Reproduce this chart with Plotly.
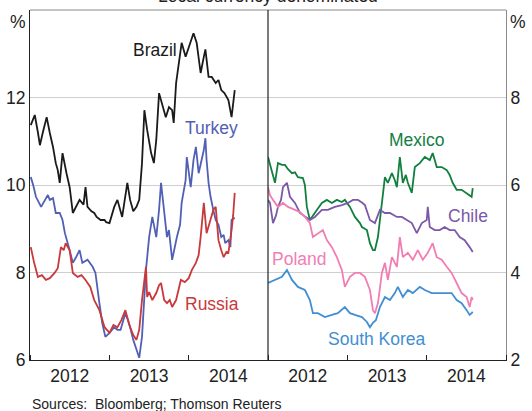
import pandas as pd
import plotly.graph_objects as go

# ---------------- data (decimal years, yields in %) ----------------
brazil_t = [2012.01, 2012.06, 2012.10, 2012.125, 2012.16, 2012.21, 2012.25, 2012.29, 2012.325, 2012.35,
            2012.375, 2012.41, 2012.46, 2012.50, 2012.54, 2012.56, 2012.625, 2012.675, 2012.70, 2012.725,
            2012.775, 2012.81, 2012.84, 2012.89, 2012.94, 2012.96, 2013.0, 2013.06, 2013.10, 2013.16,
            2013.225, 2013.26, 2013.30, 2013.34, 2013.375, 2013.41, 2013.44, 2013.475, 2013.525, 2013.56,
            2013.59, 2013.625, 2013.66, 2013.71, 2013.75, 2013.79, 2013.81, 2013.84, 2013.875, 2013.91,
            2013.96, 2014.0, 2014.025, 2014.06, 2014.10, 2014.125, 2014.15, 2014.19, 2014.21, 2014.25,
            2014.29, 2014.34, 2014.375, 2014.41, 2014.45, 2014.50, 2014.54, 2014.58]
brazil_v = [11.37, 11.6, 11.2, 10.91, 11.19, 11.55, 11.19, 10.87, 10.5, 10.34,
            10.05, 10.73, 10.27, 9.95, 9.36, 9.43, 9.66, 9.55, 9.95, 9.5,
            9.4, 9.36, 9.27, 9.2, 9.2, 9.15, 9.13, 9.5, 9.66, 9.27,
            10.05, 9.66, 9.4, 9.5, 9.66, 10.5, 11.71, 11.26, 10.73, 10.5,
            11.03, 12.1, 11.87, 11.55, 11.78, 11.71, 11.42, 12.33, 12.79, 13.25,
            12.93, 13.15, 13.25, 13.47, 13.25, 12.93, 12.56, 12.93, 13.1, 12.47,
            12.47, 12.33, 12.4, 12.17, 12.1, 11.94, 11.55, 12.17]

turkey_t = [2012.01, 2012.04, 2012.075, 2012.14, 2012.19, 2012.225, 2012.25, 2012.29, 2012.325, 2012.375,
            2012.41, 2012.44, 2012.50, 2012.54, 2012.575, 2012.625, 2012.66, 2012.725, 2012.79, 2012.825,
            2012.875, 2012.91, 2012.95, 2013.0, 2013.06, 2013.10, 2013.14, 2013.20, 2013.225, 2013.26,
            2013.30, 2013.34, 2013.375, 2013.41, 2013.44, 2013.46, 2013.50, 2013.54, 2013.59, 2013.625,
            2013.65, 2013.69, 2013.725, 2013.75, 2013.79, 2013.85, 2013.89, 2013.91, 2013.96, 2013.975,
            2014.0, 2014.025, 2014.06, 2014.09, 2014.125, 2014.16, 2014.19, 2014.21, 2014.225, 2014.25,
            2014.275, 2014.31, 2014.34, 2014.375, 2014.41, 2014.44, 2014.46, 2014.50, 2014.525, 2014.54,
            2014.58]
turkey_v = [10.18, 10.0, 9.73, 9.5, 9.66, 9.77, 9.66, 9.7, 9.36, 9.36,
            9.2, 8.9, 8.51, 8.22, 8.33, 8.51, 8.22, 8.29, 8.13, 7.99,
            7.3, 6.85, 6.53, 6.62, 6.75, 6.69, 6.69, 7.07, 6.95, 6.75,
            6.46, 6.23, 6.05, 6.53, 7.37, 8.06, 8.81, 9.27, 8.81, 9.43,
            10.05, 9.43, 8.81, 8.97, 8.29, 8.81, 9.09, 9.59, 10.11, 10.64,
            10.23, 9.95, 10.57, 10.87, 10.27, 10.57, 10.8, 11.07, 10.57, 10.05,
            9.73, 9.43, 9.2, 9.09, 8.81, 8.86, 8.67, 8.74, 8.58, 9.2,
            9.25]

russia_t = [2012.01, 2012.05, 2012.10, 2012.15, 2012.20, 2012.25, 2012.31, 2012.35, 2012.39, 2012.425,
            2012.45, 2012.50, 2012.54, 2012.60, 2012.65, 2012.70, 2012.76, 2012.81, 2012.875, 2012.94,
            2013.0, 2013.05, 2013.10, 2013.15, 2013.20, 2013.26, 2013.30, 2013.34, 2013.375, 2013.41,
            2013.46, 2013.475, 2013.50, 2013.54, 2013.59, 2013.625, 2013.65, 2013.69, 2013.725, 2013.76,
            2013.79, 2013.84, 2013.90, 2013.95, 2014.0, 2014.04, 2014.09, 2014.125, 2014.15, 2014.19,
            2014.225, 2014.275, 2014.31, 2014.34, 2014.375, 2014.41, 2014.44, 2014.475, 2014.50, 2014.54,
            2014.56, 2014.58]
russia_v = [8.58, 8.24, 7.9, 7.94, 7.83, 7.87, 7.99, 8.1, 8.58, 8.51,
            8.67, 8.51, 7.99, 7.9, 7.94, 7.83, 7.67, 7.37, 7.14, 6.75,
            6.62, 6.8, 6.75, 6.91, 7.14, 6.75, 6.57, 6.46, 6.69, 7.37,
            8.13, 7.44, 7.55, 7.37, 7.53, 7.71, 7.76, 7.37, 7.3, 7.37,
            7.21, 7.37, 7.83, 7.78, 7.87, 8.06, 8.22, 8.4, 8.81, 9.59,
            8.9, 9.2, 9.43, 9.5, 8.74, 8.51, 8.35, 8.47, 8.45, 8.97,
            9.31, 9.82]

mexico_t = [2012.0, 2012.05, 2012.088, 2012.126, 2012.176, 2012.214, 2012.252, 2012.302, 2012.34, 2012.377,
            2012.44, 2012.465, 2012.49, 2012.528, 2012.566, 2012.616, 2012.679, 2012.742, 2012.805, 2012.868,
            2012.931, 2012.969, 2013.031, 2013.094, 2013.157, 2013.182, 2013.245, 2013.283, 2013.321, 2013.346,
            2013.384, 2013.409, 2013.434, 2013.472, 2013.509, 2013.56, 2013.597, 2013.623, 2013.66, 2013.698,
            2013.736, 2013.761, 2013.811, 2013.849, 2013.912, 2013.975, 2014.038, 2014.075, 2014.126, 2014.189,
            2014.252, 2014.289, 2014.327, 2014.377, 2014.44, 2014.503, 2014.566, 2014.58]
mexico_v = [6.64, 6.27, 6.05, 6.5, 6.46, 6.46, 6.36, 6.27, 6.29, 6.18,
            6.16, 6.0, 5.5, 5.2, 5.31, 5.43, 5.59, 5.66, 5.59, 5.66,
            5.61, 5.66, 5.5, 5.27, 5.13, 5.04, 4.97, 4.67, 4.51, 4.51,
            4.81, 5.2, 5.66, 6.18, 6.05, 6.27, 6.11, 5.95, 6.64, 6.05,
            6.23, 6.05, 5.82, 6.41, 6.5, 6.64, 6.57, 6.73, 6.41, 6.41,
            6.34, 6.23, 6.05, 5.89, 5.89, 5.82, 5.73, 5.93]

chile_t = [2012.0, 2012.025, 2012.063, 2012.10, 2012.126, 2012.164, 2012.189, 2012.239, 2012.277, 2012.34,
           2012.403, 2012.465, 2012.528, 2012.591, 2012.679, 2012.755, 2012.843, 2012.931, 2013.006, 2013.069,
           2013.132, 2013.182, 2013.22, 2013.283, 2013.346, 2013.409, 2013.472, 2013.535, 2013.623, 2013.686,
           2013.748, 2013.811, 2013.874, 2013.937, 2014.0, 2014.013, 2014.038, 2014.101, 2014.164, 2014.226,
           2014.289, 2014.352, 2014.415, 2014.478, 2014.541, 2014.58]
chile_v = [5.66, 5.59, 5.13, 5.3, 5.5, 5.66, 5.95, 6.05, 5.73, 5.59,
           5.36, 5.27, 5.2, 5.27, 5.43, 5.43, 5.5, 5.54, 5.59, 5.66,
           5.66, 5.6, 5.54, 5.2, 5.13, 5.43, 5.36, 5.36, 5.27, 5.27,
           5.2, 5.13, 4.9, 5.13, 5.2, 5.5, 5.04, 4.97, 4.97, 5.04,
           4.97, 4.97, 4.81, 4.74, 4.58, 4.47]

poland_t = [2012.0, 2012.025, 2012.063, 2012.126, 2012.189, 2012.252, 2012.34, 2012.403, 2012.465, 2012.528,
            2012.566, 2012.629, 2012.692, 2012.742, 2012.805, 2012.868, 2012.931, 2012.969, 2013.031, 2013.094,
            2013.157, 2013.22, 2013.283, 2013.321, 2013.346, 2013.384, 2013.434, 2013.472, 2013.509, 2013.56,
            2013.623, 2013.66, 2013.698, 2013.761, 2013.824, 2013.887, 2013.95, 2014.013, 2014.075, 2014.126,
            2014.189, 2014.252, 2014.314, 2014.377, 2014.44, 2014.503, 2014.541, 2014.566, 2014.58]
poland_v = [5.95, 5.77, 5.66, 5.5, 5.59, 5.5, 5.43, 5.38, 5.27, 5.13,
            4.81, 4.9, 4.97, 4.74, 4.58, 4.35, 4.06, 3.67, 3.9, 3.99,
            3.99, 3.9, 3.6, 3.14, 3.07, 3.3, 3.99, 4.22, 3.83, 4.35,
            4.13, 4.81, 4.35, 4.45, 4.29, 4.51, 4.29, 4.45, 4.67, 4.35,
            4.29, 4.13, 3.99, 3.76, 3.53, 3.44, 3.21, 3.44, 3.37]

korea_t = [2012.0, 2012.088, 2012.176, 2012.239, 2012.302, 2012.377, 2012.465, 2012.528, 2012.566, 2012.629,
           2012.717, 2012.805, 2012.88, 2012.969, 2013.031, 2013.094, 2013.182, 2013.245, 2013.283, 2013.321,
           2013.358, 2013.409, 2013.472, 2013.535, 2013.597, 2013.635, 2013.698, 2013.761, 2013.824, 2013.912,
           2013.975, 2014.063, 2014.138, 2014.226, 2014.314, 2014.377, 2014.44, 2014.503, 2014.541, 2014.566,
           2014.58]
korea_v = [3.76, 3.83, 3.9, 4.06, 3.83, 3.67, 3.6, 3.37, 3.07, 3.07,
           2.98, 3.03, 3.07, 3.21, 3.07, 3.03, 2.98, 2.87, 2.75, 2.85,
           2.91, 3.21, 3.44, 3.37, 3.53, 3.67, 3.44, 3.6, 3.53, 3.67,
           3.6, 3.53, 3.53, 3.53, 3.53, 3.37, 3.3, 3.14, 3.03, 3.07,
           3.1]

left_ticks = [6, 8, 10, 12]
right_ticks = [2, 4, 6, 8]
title_text = "Local currency denominated"
source_text = "Sources:  Bloomberg; Thomson Reuters"


def to_dates(vals):
    out = []
    for v in vals:
        y = int(v)
        out.append(pd.Timestamp(y, 1, 1) + pd.Timedelta(days=(v - y) * 365.25))
    return out


FONT = "Liberation Sans, Arial, sans-serif"
TXT = "#222222"
FS = 17.5

fig = go.Figure()

left_series = [
    ("Brazil", brazil_t, brazil_v, "#1a1a1a"),
    ("Turkey", turkey_t, turkey_v, "#5160b4"),
    ("Russia", russia_t, russia_v, "#c9393b"),
]
right_series = [
    ("Mexico", mexico_t, mexico_v, "#11803f"),
    ("Chile", chile_t, chile_v, "#7c58a9"),
    ("Poland", poland_t, poland_v, "#f27db3"),
    ("South Korea", korea_t, korea_v, "#3f8fd2"),
]

for name, t, v, c in left_series:
    fig.add_trace(go.Scatter(x=to_dates(t), y=v, mode="lines", name=name,
                             line=dict(color=c, width=1.8), xaxis="x", yaxis="y",
                             showlegend=False))
for name, t, v, c in right_series:
    fig.add_trace(go.Scatter(x=to_dates(t), y=v, mode="lines", name=name,
                             line=dict(color=c, width=1.8), xaxis="x2", yaxis="y2",
                             showlegend=False))

xcommon = dict(type="date", range=["2012-01-01", "2015-01-01"], dtick="M12", tick0="2012-01-01",
               tickformat="%Y", ticklabelmode="period", ticks="inside", ticklen=5,
               tickcolor="#222222", showgrid=False, showline=True, linecolor="#222222",
               linewidth=1.2, zeroline=False, automargin=False,
               tickfont=dict(family=FONT, size=FS, color=TXT))

fig.update_layout(
    width=532, height=411,
    margin=dict(l=30, r=26, t=10, b=51),
    paper_bgcolor="white", plot_bgcolor="white",
    xaxis=dict(domain=[0, 0.5], anchor="y", **xcommon),
    xaxis2=dict(domain=[0.5, 1], anchor="y2", **xcommon),
    yaxis=dict(range=[6, 14], tickvals=left_ticks, anchor="x", side="left",
               showgrid=True, gridcolor="#cfcfcf", gridwidth=1.2, zeroline=False,
               showline=True, linecolor="#222222", linewidth=1.2, ticks="", automargin=False,
               tickfont=dict(family=FONT, size=FS, color=TXT)),
    yaxis2=dict(range=[2, 10], tickvals=right_ticks, anchor="x2", side="right",
                showgrid=True, gridcolor="#cfcfcf", gridwidth=1.2, zeroline=False,
                showline=True, linecolor="#8a8a8a", linewidth=1.2, ticks="", automargin=False,
                tickfont=dict(family=FONT, size=FS, color=TXT)),
    showlegend=False,
)

# frame: top border and middle divider
fig.add_shape(type="line", xref="paper", yref="paper", x0=0, x1=1, y0=1, y1=1,
              line=dict(color="#8a8a8a", width=1.2))
fig.add_shape(type="line", xref="paper", yref="paper", x0=0.5, x1=0.5, y0=0, y1=1,
              line=dict(color="#222222", width=1.2))

annos = [
    dict(text="%", x=-0.004, y=1.0, xanchor="right", yanchor="top", font=dict(size=FS)),
    dict(text="%", x=1.004, y=1.0, xanchor="left", yanchor="top", font=dict(size=FS)),
    dict(text="Brazil", x=0.2626, y=0.886, font=dict(size=FS, color="#1a1a1a")),
    dict(text="Turkey", x=0.382, y=0.663, font=dict(size=FS, color="#5160b4")),
    dict(text="Russia", x=0.382, y=0.16, font=dict(size=FS, color="#c9393b")),
    dict(text="Mexico", x=0.813, y=0.629, font=dict(size=FS, color="#11803f")),
    dict(text="Chile", x=0.92, y=0.411, font=dict(size=FS, color="#7c58a9")),
    dict(text="Poland", x=0.567, y=0.289, font=dict(size=FS, color="#f27db3")),
    dict(text="South Korea", x=0.729, y=0.06, font=dict(size=FS, color="#3f8fd2")),
    dict(text=title_text, x=0.5, y=1.0057, yanchor="bottom", font=dict(size=FS)),
    dict(text=source_text, x=0.0, y=-0.126, xanchor="left", yanchor="middle", font=dict(size=14)),
]
for a in annos:
    f = dict(family=FONT, color=TXT)
    f.update(a.pop("font"))
    a.setdefault("xanchor", "center")
    a.setdefault("yanchor", "middle")
    fig.add_annotation(xref="paper", yref="paper", showarrow=False, font=f, **a)

fig.write_html("out.html", config={"displayModeBar": False},
               post_script="document.body.style.margin='0';document.body.style.padding='0';"
                           "document.body.style.overflow='hidden';")
